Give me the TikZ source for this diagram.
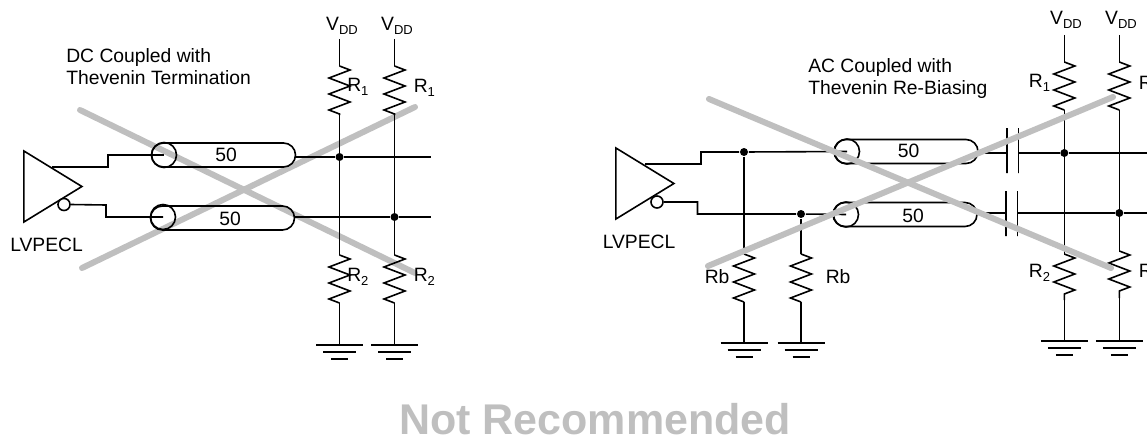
\documentclass[tikz,border=0pt]{standalone}
\usepackage{fontspec}
\setmainfont{Liberation Sans}
\usetikzlibrary{shapes.geometric,shapes.misc,decorations.pathmorphing}
\definecolor{crossgray}{HTML}{BFBFBF}
\newcommand{\subtxt}[1]{\raisebox{-3.5pt}{\fontsize{13}{14}\selectfont #1}}
\tikzset{
lbl/.style={inner sep=0pt,font=\fontsize{19.3}{22}\selectfont},
driver/.style={draw,isosceles triangle,isosceles triangle stretches,minimum width=71pt,minimum height=58pt,inner sep=0pt,anchor=apex},
bubble/.style={draw,circle,fill=white,minimum size=12pt,inner sep=0pt},
cable/.style={draw,rounded rectangle,minimum width=144pt,minimum height=24pt,inner sep=0pt},
shield/.style={draw,circle,minimum size=25pt,inner sep=0pt},
dot/.style={circle,fill=black,minimum size=8pt,inner sep=0pt},
plate/.style={draw,fill=black,minimum width=0pt,minimum height=45pt,inner sep=0pt},
res/.style={decorate,decoration={zigzag,amplitude=10.5pt,segment length=16pt}},
cross/.style={crossgray,line width=6pt,line cap=round},
gnd/.pic={\draw (-23.5,0) -- (23.5,0);
\draw (-16.5,7) -- (16.5,7);
\draw (-8.5,14) -- (8.5,14);}
}
\begin{document}
\begin{tikzpicture}[x=1pt,y=-1pt,line width=1.6pt]
\useasboundingbox (0,0) rectangle (1147,436);
% DC coupled
\coordinate (xa1) at (80,110);
\coordinate (xa2) at (415,273);
\coordinate (xb1) at (82,268);
\coordinate (xb2) at (415,107);
\draw[cross] (xa1) -- (xa2);
\draw[cross] (xb1) -- (xb2);
\node[driver] (drvL) at (84,186.5) {};
\node[bubble] (bubL) at (64,204.5) {};
\node[lbl,anchor=west] (lvpL) at (9.5,245) {LVPECL};
\node[lbl,anchor=west,align=left] (titleL) at (65.5,67) {DC Coupled with\\Thevenin Termination};
\node[shield] (shA) at (164,155) {};
\node[shield] (shB) at (163,217) {};
\node[cable] (cabA) at (223.5,155) {};
\node[cable] (cabB) at (222.5,218) {};
\node[lbl] (fiftyA) at (226,155) {50};
\node[lbl] (fiftyB) at (230,219) {50};
\coordinate (outA) at (52,167);
\draw (outA) -- (108,167) |- (shA.center);
\draw (bubL.east) -- (106,205) |- (shB.center);
\node[dot] (dA) at (339.5,157) {};
\node[dot] (dB) at (394.5,217) {};
\coordinate (endA) at (431,157);
\coordinate (endB) at (431,217);
\draw (cabA.east |- dA) -- (dA) -- (endA);
\draw (cabB.east |- dB) -- (dB) -- (endB);
\node[lbl] (vddA) at (342,26) {V\subtxt{DD}};
\node[lbl] (vddB) at (397,26) {V\subtxt{DD}};
\coordinate (topA) at (339.5,39);
\coordinate (topB) at (394.5,39);
\coordinate (r1Aa) at (339.5,66);
\coordinate (r1Ab) at (339.5,115);
\coordinate (r1Ba) at (394.5,66);
\coordinate (r1Bb) at (394.5,115);
\coordinate (r2Aa) at (339.5,255);
\coordinate (r2Ab) at (339.5,303);
\coordinate (r2Ba) at (394.5,255);
\coordinate (r2Bb) at (394.5,303);
\coordinate (gA) at (339.5,345);
\coordinate (gB) at (394.5,345);
\draw (topA) -- (r1Aa);
\draw (topB) -- (r1Ba);
\draw[res] (r1Aa) -- (r1Ab);
\draw[res] (r1Ba) -- (r1Bb);
\draw (r1Ab) -- (r2Aa);
\draw (r1Bb) -- (r2Ba);
\draw[res] (r2Aa) -- (r2Ab);
\draw[res] (r2Ba) -- (r2Bb);
\draw (r2Ab) -- (gA);
\draw (r2Bb) -- (gB);
\pic at (gA) {gnd};
\pic at (gB) {gnd};
\node[lbl,anchor=west] (lr1A) at (346.5,87) {R\subtxt{1}};
\node[lbl,anchor=west] (lr1B) at (413,88) {R\subtxt{1}};
\node[lbl,anchor=west] (lr2A) at (346.5,277) {R\subtxt{2}};
\node[lbl,anchor=west] (lr2B) at (413,277) {R\subtxt{2}};
% AC coupled
\node[driver] (drvR) at (676,183.5) {};
\node[bubble] (bubR) at (657,202) {};
\node[lbl,anchor=west] (lvpR) at (602,242) {LVPECL};
\node[lbl,anchor=west,align=left] (titleR) at (807.5,79) {AC Coupled with\\Thevenin Re-Biasing};
\node[shield] (shC) at (847,151.5) {};
\node[shield] (shD) at (846,214.5) {};
\node[cable] (cabC) at (906,151.5) {};
\node[cable] (cabD) at (905,214.5) {};
\node[lbl] (fiftyC) at (908.5,151) {50};
\node[lbl] (fiftyD) at (913,216) {50};
\coordinate (outC) at (645,164);
\node[dot] (dRa) at (744,152) {};
\node[dot] (dRb) at (801,214) {};
\draw (outC) -- (701,164) |- (dRa) -- (shC.center);
\draw (bubR.east) -- (697.5,202) |- (dRb) -- (shD.center);
\node[plate] (capCa) at (1006.7,150.5) {};
\node[plate] (capCb) at (1018.3,150.5) {};
\node[plate] (capDa) at (1005.7,213.5) {};
\node[plate] (capDb) at (1017.3,213.5) {};
\node[dot] (dC) at (1064.3,153) {};
\node[dot] (dD) at (1119.3,213) {};
\coordinate (endC) at (1147,153);
\coordinate (endD) at (1147,213);
\draw (cabC.east |- dC) -- (capCa.center |- dC);
\draw (cabD.east |- dD) -- (capDa.center |- dD);
\draw (capCb.center |- dC) -- (dC) -- (endC);
\draw (capDb.center |- dD) -- (dD) -- (endD);
\node[lbl] (vddC) at (1066,20) {V\subtxt{DD}};
\node[lbl] (vddD) at (1121,20) {V\subtxt{DD}};
\coordinate (topC) at (1064.3,35);
\coordinate (topD) at (1119.3,35);
\coordinate (r1Ca) at (1064.3,62);
\coordinate (r1Cb) at (1064.3,110);
\coordinate (r1Da) at (1119.3,62);
\coordinate (r1Db) at (1119.3,110);
\coordinate (r2Ca) at (1064.3,254);
\coordinate (r2Cb) at (1064.3,300);
\coordinate (r2Da) at (1119.3,251);
\coordinate (r2Db) at (1119.3,298);
\coordinate (gC) at (1064.3,341);
\coordinate (gD) at (1119.3,341);
\draw (topC) -- (r1Ca);
\draw (topD) -- (r1Da);
\draw[res] (r1Ca) -- (r1Cb);
\draw[res] (r1Da) -- (r1Db);
\draw (r1Cb) -- (r2Ca);
\draw (r1Db) -- (r2Da);
\draw[res] (r2Ca) -- (r2Cb);
\draw[res] (r2Da) -- (r2Db);
\draw (r2Cb) -- (gC);
\draw (r2Db) -- (gD);
\pic at (gC) {gnd};
\pic at (gD) {gnd};
\coordinate (rbAa) at (744,254);
\coordinate (rbAb) at (744,302);
\coordinate (rbBa) at (801,254);
\coordinate (rbBb) at (801,302);
\coordinate (gE) at (744,343);
\coordinate (gF) at (801,343);
\draw (dRa) -- (rbAa);
\draw (dRb) -- (rbBa);
\draw[res] (rbAa) -- (rbAb);
\draw[res] (rbBa) -- (rbBb);
\draw (rbAb) -- (gE);
\draw (rbBb) -- (gF);
\pic at (gE) {gnd};
\pic at (gF) {gnd};
\node[lbl,anchor=west] (lr1C) at (1028,83) {R\subtxt{1}};
\node[lbl,anchor=west] (lr1D) at (1138,85) {R\subtxt{1}};
\node[lbl,anchor=west] (lr2C) at (1028,273) {R\subtxt{2}};
\node[lbl,anchor=west] (lr2D) at (1138,273) {R\subtxt{2}};
\node[lbl,anchor=west] (lrbA) at (704,277) {Rb};
\node[lbl,anchor=west] (lrbB) at (825,277) {Rb};
\coordinate (xc1) at (709,99);
\coordinate (xc2) at (1111,268);
\coordinate (xd1) at (708,266);
\coordinate (xd2) at (1113,97);
\draw[cross] (xc1) -- (xc2);
\draw[cross] (xd1) -- (xd2);
% footer
\node[font=\fontsize{43}{50}\selectfont\bfseries,text=crossgray,inner sep=0pt] (verdict) at (595,419) {Not Recommended};
\end{tikzpicture}
\end{document}
